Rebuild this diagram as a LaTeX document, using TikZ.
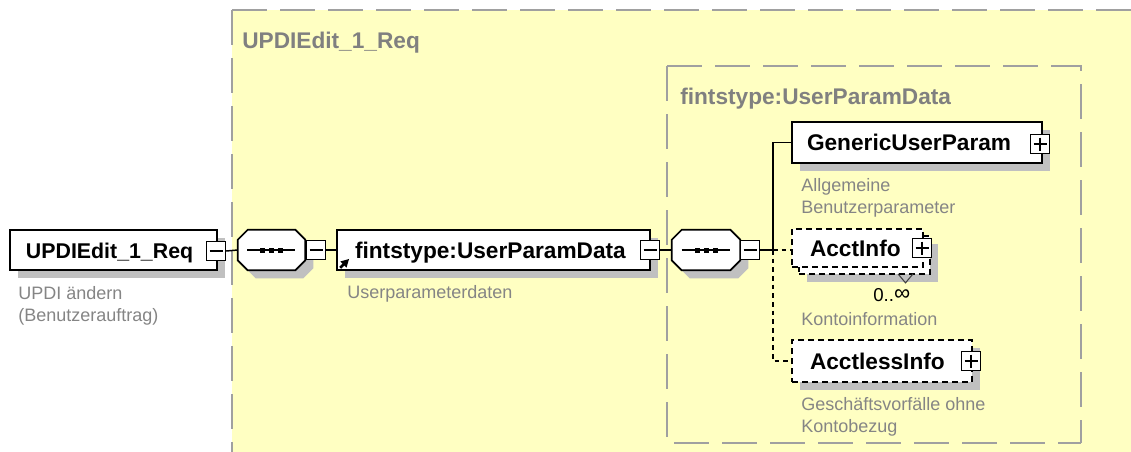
\documentclass[tikz,border=0pt]{standalone}
\usepackage{fontspec}
\setmainfont{Liberation Sans}
\usetikzlibrary{shadows,arrows.meta}
\newdimen\pxu \pxu=0.75pt
\definecolor{bgyellow}{RGB}{255,255,194}
\definecolor{framegray}{RGB}{160,160,160}
\definecolor{shadowgray}{RGB}{192,192,192}
\definecolor{descgray}{RGB}{133,133,133}
\definecolor{titlegray}{RGB}{128,128,128}
\newcommand\octpath[3]{([shift={(10+#2,#3)}]#1.north west) -- ([shift={(-10+#2,#3)}]#1.north east) -- ([shift={(#2,10+#3)}]#1.north east) -- ([shift={(#2,-10+#3)}]#1.south east) -- ([shift={(-10+#2,#3)}]#1.south east) -- ([shift={(10+#2,#3)}]#1.south west) -- ([shift={(#2,-10+#3)}]#1.south west) -- ([shift={(#2,10+#3)}]#1.north west) -- cycle}
\tikzset{
  framedash/.style={draw=framegray, line width=1.5pt, dash pattern=on 26pt off 10pt},
  ctitle/.style={font=\fontsize{17pt}{20pt}\selectfont\bfseries, text=titlegray, inner sep=0pt, anchor=base west},
  elem/.style={draw=black, line width=1.3pt, fill=white, inner xsep=0pt, inner ysep=0pt,
    font=\fontsize{17pt}{20pt}\selectfont\bfseries, text height=12.2pt, text depth=0pt,
    drop shadow={shadow xshift=6pt, shadow yshift=-6pt, opacity=1, fill=shadowgray}},
  optelem/.style={elem, dash pattern=on 4.5pt off 3pt},
  optnoshadow/.style={draw=black, line width=1.3pt, fill=white, inner xsep=0pt, inner ysep=0pt,
    font=\fontsize{17pt}{20pt}\selectfont\bfseries, text height=12.2pt, text depth=0pt,
    dash pattern=on 4.5pt off 3pt},
  seqbox/.style={inner sep=0pt, minimum height=40\pxu},
  minusbox/.style={draw=black, line width=1pt, fill=white, minimum width=19\pxu, minimum height=19\pxu, inner sep=0pt,
    path picture={\draw[line width=1pt] ([xshift=3\pxu]path picture bounding box.west) -- ([xshift=-3\pxu]path picture bounding box.east);}},
  plusbox/.style={draw=black, line width=1pt, fill=white, minimum width=19\pxu, minimum height=19\pxu, inner sep=0pt,
    path picture={\draw[line width=1pt] ([xshift=3\pxu]path picture bounding box.west) -- ([xshift=-3\pxu]path picture bounding box.east);
      \draw[line width=1pt] ([yshift=-3\pxu]path picture bounding box.north) -- ([yshift=3\pxu]path picture bounding box.south);}},
  conn/.style={draw=black, line width=1.1pt},
  optconn/.style={conn, dash pattern=on 3.5pt off 3pt},
  desc/.style={font=\fontsize{13.5pt}{16.5pt}\selectfont, text=descgray, align=left, inner sep=0pt, anchor=north west},
  occ/.style={font=\fontsize{14pt}{16.5pt}\selectfont, text=black, inner sep=0pt, anchor=north west},
  seqline/.style={line width=1.1pt, draw=black}
}
\begin{document}
\begin{tikzpicture}[x=0.75pt, y=-0.75pt]
\useasboundingbox (0,0) rectangle (1131,451);
\fill[white] (0,0) rectangle (1131,451);
\begin{scope}
  \clip (0,0) rectangle (1131,451);
  \fill[bgyellow] (232,10) rectangle (1140,460);
  \draw[framedash] (232,10) -- (232,460);
  \draw[framedash] (232,10) -- (1140,10);
\end{scope}
\draw[framedash] (667,66) -- (1081,66) -- (1081,443);
\draw[framedash] (667,66) -- (667,443) -- (1081,443);

\node[ctitle] (t1) at (242,48) {UPDIEdit\_1\_Req};
\node[ctitle] (t2) at (680,104) {fintstype:UserParamData};

% elements
\node[elem, minimum height=40\pxu] (root) at (113.5,250) {\makebox[207\pxu][l]{\hspace*{16\pxu}\fontsize{16pt}{20pt}\selectfont UPDIEdit\_1\_Req}};
\node[elem, minimum height=40\pxu] (fint) at (493.5,250) {\makebox[313\pxu][l]{\hspace*{18\pxu}fintstype:UserParamData}};
\node[elem, minimum height=41\pxu] (gen) at (917,142.5) {\makebox[250\pxu][l]{\hspace*{15\pxu}GenericUserParam}};
\node[optelem, minimum width=131\pxu, minimum height=38\pxu] (acctback) at (864.5,255) {};
\node[optnoshadow, minimum height=38\pxu] (acct) at (857.5,248) {\makebox[131\pxu][l]{\hspace*{18\pxu}AcctInfo}};
\node[optelem, minimum height=42\pxu] (acctless) at (882,361) {\makebox[180\pxu][l]{\hspace*{18\pxu}AcctlessInfo}};

% sequence compositors
\node[seqbox, minimum width=67\pxu] (seq1) at (271.5,250) {};
\node[seqbox, minimum width=68\pxu] (seq2) at (706,250) {};
\fill[shadowgray] \octpath{seq1}{8}{8};
\fill[shadowgray] \octpath{seq2}{8}{8};
\draw[line width=1.3pt, fill=white] \octpath{seq1}{0}{0};
\draw[line width=1.3pt, fill=white] \octpath{seq2}{0}{0};
\draw[seqline] ([xshift=-24.5\pxu]seq1.center) -- ([xshift=23.5\pxu]seq1.center);
\draw[seqline] ([xshift=-24.5\pxu]seq2.center) -- ([xshift=23.5\pxu]seq2.center);
\foreach \s in {seq1,seq2}{
  \foreach \d in {-9,0,9}{
    \fill[black] ([shift={(\d-2.5,-2.5)}]\s.center) rectangle ([shift={(\d+2.5,2.5)}]\s.center);
  }
}

% expand / collapse boxes
\node[minusbox] (rootm) at (216,251) {};
\node[minusbox] (seq1m) at (316,250) {};
\node[minusbox] (fintm) at (650,250) {};
\node[minusbox] (seq2m) at (750,250) {};
\node[plusbox] (genp) at (1040,144) {};
\node[plusbox] (acctp) at (922,248) {};
\node[plusbox] (acctlp) at (971,361) {};

% reference arrow
\draw[line width=2pt, -{Triangle[length=6pt,width=6pt]}] ([shift={(4,-3)}]fint.south west) -- ([shift={(13,-12)}]fint.south west);

% occurrence chevron
\draw[line width=0.8pt, black!75] ([shift={(33.5,-1)}]acctback.south) -- ([shift={(41,8)}]acctback.south) -- ([shift={(48.5,-1)}]acctback.south);

% connectors
\coordinate (junc) at (773,250);
\draw[conn] (rootm.east) -- (seq1.west);
\draw[conn] (seq1m.east) -- (fint.west);
\draw[conn] (fintm.east) -- (seq2.west);
\draw[conn] (seq2m.east) -- (junc);
\draw[conn] (junc) |- (gen.west);
\draw[optconn] (junc) -- (junc -| acct.west);
\draw[optconn] (junc) |- (acctless.west);

% descriptions
\node[desc] (rootd) at (18,286) {UPDI ändern\\(Benutzerauftrag)};
\node[desc] (fintd) at (347,285) {Userparameterdaten};
\node[desc] (gend) at (801,178) {Allgemeine\\Benutzerparameter};
\node[occ] (acctocc) at (873,288) {0..\raisebox{0.5pt}{\fontsize{17pt}{17pt}\selectfont ∞}};
\node[desc] (acctd) at (801,312) {Kontoinformation};
\node[desc] (acctld) at (801,397) {Geschäftsvorfälle ohne\\Kontobezug};
\end{tikzpicture}
\end{document}
